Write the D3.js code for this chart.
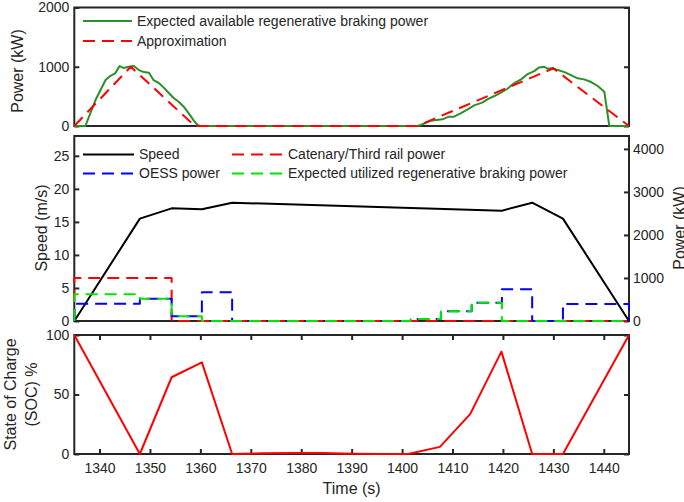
<!DOCTYPE html>
<html><head><meta charset="utf-8">
<script src="https://cdn.jsdelivr.net/npm/d3@7"></script>
<style>
html,body{margin:0;padding:0;background:#fff;}
svg{display:block;}
text{font-family:"Liberation Sans",Arial,Helvetica,sans-serif;fill:#262626;}
</style></head>
<body><svg id="c" width="684" height="502"></svg>
<script>
// ---------------- data ----------------
// Top panel: expected available regenerative braking power (kW)
const availT = [1335,1337.2,1339.2,1341.2,1342.1,1343.1,1344.0,1344.8,1345.8,1346.8,1347.8,1348.8,1349.8,1350.7,1351.7,1352.7,1353.7,1354.7,1355.7,1356.7,1357.7,1358.7,1359.4,1360,1403.0,1403.7,1405.7,1408.0,1409.3,1410.3,1411.6,1413.0,1414.3,1416.0,1416.9,1418.3,1419.6,1420.9,1422.2,1423.6,1424.9,1426.2,1427.2,1428.2,1428.9,1429.9,1430.9,1432.2,1433.5,1434.8,1436.1,1437.5,1438.8,1440.1,1441.1,1445];
const availP = [0,0,438,776,843,888,1012,978,1000,1012,944,910,899,776,730,652,562,472,410,326,214,90,17,0,0,17,90,112,157,157,214,281,348,399,450,506,562,629,720,787,877,927,989,1000,966,978,944,910,860,804,787,742,675,579,0,0];
// Approximation (kW)
const approxT = [1335,1346.2,1358.9,1403.0,1430.0,1445];
const approxP = [0,1000,0,0,973,0];

// Middle panel: speed (m/s)
const speedT = [1335,1348,1354.3,1360.3,1366.3,1419.8,1425.8,1431.9,1445];
const speedV = [0,15.5,17.05,16.9,17.9,16.7,17.9,15.5,0];
// Catenary / third rail power (kW), step-after
const catT = [1335,1335,1354.3,1445];
const catP = [0,1000,0,0];
// OESS power (kW), step-after
const oessT = [1335,1335,1348,1354.3,1360.3,1366.3,1401.7,1407.7,1413.8,1419.8,1425.8,1431.9,1445];
const oessP = [0,400,515,110,670,0,47,225,426,737,0,395,0];
// Expected utilized regenerative braking power (kW), step-after
const utilT = [1335,1335,1348,1354.3,1360.3,1401.7,1407.7,1413.8,1419.8,1445];
const utilP = [0,620,515,110,0,47,225,426,0,0];

// Bottom panel: state of charge (%)
const socT = [1335,1348,1354.3,1360.3,1366.3,1372.3,1378.3,1384.3,1390.3,1396,1401.2,1407.5,1413.5,1419.7,1425.8,1431.9,1445];
const socV = [100,0,64.5,77,0,0.6,0.9,0.8,0.3,0,0,6,33.5,86,0,0,100];

// ticks
const timeTicks = [1340,1350,1360,1370,1380,1390,1400,1410,1420,1430,1440];
const topTicks = [0,1000,2000];
const speedTicks = [0,5,10,15,20,25];
const powerTicks = [0,1000,2000,3000,4000];
const socTicks = [0,50,100];

// ---------------- layout ----------------
const svg = d3.select("#c");
const L = 74.3, R = 629;
const P1 = {top:7.5, bot:126};
const P2 = {top:136, bot:321};
const P3 = {top:335, bot:454};
const axCol = "#262626";

const x = d3.scaleLinear().domain([1335,1445]).range([L,R]);
const yTop = d3.scaleLinear().domain([0,2000]).range([P1.bot,P1.top]);
const ySpd = d3.scaleLinear().domain([0,28]).range([P2.bot,P2.top]);
const yPow = d3.scaleLinear().domain([0,4300]).range([P2.bot,P2.top]);
const ySoc = d3.scaleLinear().domain([0,100]).range([P3.bot,P3.top]);

function box(p){
  svg.append("rect").attr("x",L).attr("y",p.top).attr("width",R-L).attr("height",p.bot-p.top)
    .attr("fill","none").attr("stroke",axCol).attr("stroke-width",2);
}
function styleAxis(g){
  g.select(".domain").remove();
  g.selectAll("line").attr("stroke",axCol).attr("stroke-width",2);
  g.selectAll("text").attr("font-size","14px").style("fill",axCol)
   .attr("font-family",'"Liberation Sans",Arial,sans-serif');
}
function yAxes(scale, ticks, leftFmt){
  const gl = svg.append("g").attr("transform",`translate(${L},0)`)
    .call(d3.axisLeft(scale).tickValues(ticks).tickSize(-5).tickPadding(5).tickFormat(leftFmt));
  styleAxis(gl);
  const gr = svg.append("g").attr("transform",`translate(${R},0)`)
    .call(d3.axisRight(scale).tickValues(ticks).tickSize(-5).tickFormat(""));
  styleAxis(gr);
}

// panel boxes
box(P1); box(P2); box(P3);

// top panel axes
yAxes(yTop, topTicks, d3.format("d"));
// middle panel axes
{
  const gl = svg.append("g").attr("transform",`translate(${L},0)`)
    .call(d3.axisLeft(ySpd).tickValues(speedTicks).tickSize(-5).tickPadding(5).tickFormat(d3.format("d")));
  styleAxis(gl);
  const gr = svg.append("g").attr("transform",`translate(${R},0)`)
    .call(d3.axisRight(yPow).tickValues(powerTicks).tickSize(-5).tickPadding(4).tickFormat(d3.format("d")));
  styleAxis(gr);
}
// bottom panel axes
yAxes(ySoc, socTicks, d3.format("d"));
{
  const gb = svg.append("g").attr("transform",`translate(0,${P3.bot})`)
    .call(d3.axisBottom(x).tickValues(timeTicks).tickSize(-5).tickPadding(9).tickFormat(d3.format("d")));
  styleAxis(gb);
  const gt = svg.append("g").attr("transform",`translate(0,${P3.top})`)
    .call(d3.axisTop(x).tickValues(timeTicks).tickSize(-5).tickFormat(""));
  styleAxis(gt);
}

// ---------------- data lines ----------------
function zip(a,b){return a.map((t,i)=>[t,b[i]]);}
function drawLine(data, ys, color, dash, curve){
  const gen = d3.line().x(d=>x(d[0])).y(d=>ys(d[1])).curve(curve||d3.curveLinear);
  svg.append("path").attr("d",gen(data)).attr("fill","none").attr("stroke",color)
    .attr("stroke-width",2).attr("stroke-linejoin","round")
    .attr("stroke-dasharray",dash||null);
}
const GREEN = "#2b8f2b", LGREEN = "#00e600", RED = "#ff0000", BLUE = "#0000ff";
const DASH = "12,7";

// top
drawLine(zip(availT,availP), yTop, GREEN, null);
drawLine(zip(approxT,approxP), yTop, RED, DASH);
// middle
drawLine(zip(speedT,speedV), ySpd, "#000", null);
drawLine(zip(catT,catP), yPow, RED, DASH, d3.curveStepAfter);
drawLine(zip(oessT,oessP), yPow, BLUE, DASH, d3.curveStepAfter);
drawLine(zip(utilT,utilP), yPow, LGREEN, DASH, d3.curveStepAfter);
// bottom
drawLine(zip(socT,socV), ySoc, RED, null);

// ---------------- legends ----------------
function legendItem(x0, x1, y, color, dash, label){
  svg.append("line").attr("x1",x0).attr("x2",x1).attr("y1",y).attr("y2",y)
    .attr("stroke",color).attr("stroke-width",2).attr("stroke-dasharray",dash||null);
  svg.append("text").attr("x",x1+5).attr("y",y).attr("dy","0.35em")
    .attr("font-size","14px").text(label);
}
legendItem(83,132,21,GREEN,null,"Expected available regenerative braking power");
legendItem(83,132,41,RED,DASH,"Approximation");
legendItem(83,134,154.5,"#000",null,"Speed");
legendItem(232,283,154.5,RED,DASH,"Catenary/Third rail power");
legendItem(83,134,173.5,BLUE,DASH,"OESS power");
legendItem(232,283,173.5,LGREEN,DASH,"Expected utilized regenerative braking power");

// ---------------- axis labels ----------------
function vlabel(xp, yp, txt){
  svg.append("text").attr("transform",`translate(${xp},${yp}) rotate(-90)`)
    .attr("text-anchor","middle").attr("font-size","16px").text(txt);
}
vlabel(23, 71, "Power (kW)");
vlabel(47, 228, "Speed (m/s)");
vlabel(684.5, 228, "Power (kW)");
vlabel(16, 394.5, "State of Charge");
vlabel(37, 394.5, "(SOC) %");
svg.append("text").attr("x",(L+R)/2).attr("y",494).attr("text-anchor","middle")
  .attr("font-size","16px").text("Time (s)");
</script></body></html>
